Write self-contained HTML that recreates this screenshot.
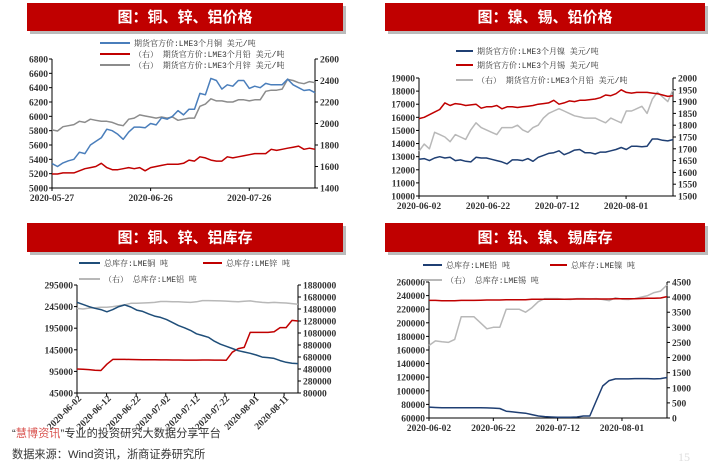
<!DOCTYPE html>
<html><head><meta charset="utf-8">
<style>
body{margin:0;background:#fff;width:720px;height:465px;overflow:hidden}
svg{display:block}
.tk{font-family:"Liberation Serif","Noto Serif CJK SC",serif;font-size:9.5px;font-weight:bold;fill:#333}
.lg{font-family:"Liberation Mono","Noto Serif CJK SC",monospace;font-size:8px;fill:#333}
.tt{font-family:"Liberation Sans","Noto Sans CJK SC",sans-serif;font-size:15px;font-weight:bold;fill:#fff}
</style></head>
<body>
<svg id="s" width="720" height="465" viewBox="0 0 720 465" xmlns="http://www.w3.org/2000/svg"></svg>
<script>
// ---- Chart 1: copper, lead, zinc prices ----
const c1Ticks = ["2020-05-27","2020-06-26","2020-07-26"];
const c1Copper = [5340,5300,5350,5380,5400,5500,5480,5600,5650,5700,5820,5800,5750,5680,5780,5850,5850,5840,5900,5880,5980,5960,6000,6080,6020,6100,6100,6320,6300,6530,6500,6380,6440,6420,6500,6500,6390,6420,6400,6460,6440,6440,6440,6520,6440,6400,6360,6370,6330];
const c1Lead = [1530,1530,1540,1540,1540,1560,1580,1590,1600,1630,1590,1570,1570,1580,1590,1580,1590,1560,1590,1600,1610,1620,1620,1620,1630,1660,1650,1690,1680,1660,1650,1650,1690,1680,1690,1700,1710,1720,1720,1720,1760,1750,1760,1770,1780,1790,1760,1770,1760];
const c1Zinc = [1940,1930,1970,1980,1990,2020,2010,2040,2030,2020,2020,2010,1990,1980,2040,2050,2080,2070,2060,2050,2060,2050,2060,2030,2040,2050,2050,2160,2180,2230,2210,2210,2200,2200,2220,2220,2210,2220,2220,2300,2310,2310,2320,2410,2400,2380,2370,2390,2380];
// ---- Chart 2: nickel, tin, lead prices ----
const c2Ticks = ["2020-06-02","2020-06-22","2020-07-12","2020-08-01"];
const c2Nickel = [12800,12850,12700,12900,13000,12900,12950,12700,12750,12650,12600,12950,12900,12900,12800,12700,12600,12450,12750,12750,12700,12850,12650,12950,13100,13250,13300,13450,13150,13300,13500,13550,13300,13300,13200,13350,13350,13450,13550,13700,13550,13800,13800,13750,13800,14350,14350,14250,14200,14300];
const c2Tin = [15900,16000,16200,16400,16600,17100,16900,17050,17000,16900,16950,17000,16700,16800,16800,16900,16650,16800,16800,16750,16800,16850,16900,17000,17050,17100,17300,17000,17100,17250,17200,17300,17300,17350,17400,17500,17700,17650,17800,18100,17900,17850,17900,17900,17900,17850,17800,17700,17600,17650];
const c2Lead = [1690,1720,1700,1770,1760,1750,1730,1760,1750,1740,1780,1810,1790,1780,1770,1760,1790,1790,1790,1800,1780,1770,1790,1800,1830,1850,1860,1870,1860,1850,1840,1835,1830,1830,1830,1820,1810,1830,1820,1810,1860,1860,1870,1880,1850,1910,1940,1920,1900,1950];
// ---- Chart 3: copper, zinc, aluminium stocks ----
const c3Ticks = ["2020-06-02","2020-06-12","2020-06-22","2020-07-02","2020-07-12","2020-07-22","2020-08-01","2020-08-11"];
const c3Copper = [255000,250000,245000,241000,238000,233000,238000,245000,249000,244000,237000,234000,228000,223000,220000,215000,208000,201000,196000,190000,182000,178000,174000,165000,158000,153000,148000,143000,140000,137000,133000,128000,127000,125000,120000,116000,114000,113000];
const c3Zinc = [480000,475000,470000,460000,455000,560000,640000,640000,640000,638000,636000,635000,634000,633000,632000,631000,630000,630000,629000,628000,628000,630000,630000,629000,628000,626000,760000,820000,840000,1090000,1090000,1090000,1090000,1100000,1170000,1170000,1290000,1280000];
const c3Alu = [1490000,1480000,1495000,1500000,1510000,1510000,1520000,1535000,1550000,1575000,1575000,1580000,1585000,1590000,1605000,1605000,1600000,1600000,1595000,1590000,1600000,1620000,1620000,1618000,1615000,1612000,1605000,1600000,1610000,1615000,1600000,1590000,1585000,1590000,1585000,1580000,1570000,1560000];
// ---- Chart 4: lead, nickel, tin stocks ----
const c4Ticks = ["2020-06-02","2020-06-22","2020-07-12","2020-08-01"];
const c4Lead = [76000,75500,75000,75000,75000,75000,75000,75000,75000,74800,74500,74000,70000,69000,68000,67000,65000,63000,62000,61500,61000,61000,61000,61500,63000,63000,85000,107000,115000,117500,117500,117500,118000,118000,118000,117500,118000,119500];
const c4Nickel = [233000,233000,232500,232500,232500,233000,233000,233000,233200,233500,233500,233500,233800,234000,234000,234000,234500,234500,234500,234500,234500,234500,234800,235000,235000,235000,235000,235000,235000,235500,235500,235500,235500,235800,236000,236000,236500,238500];
const c4Tin = [2400,2550,2520,2500,2600,3350,3350,3350,3150,2950,3000,3000,3600,3600,3600,3500,3650,3850,3950,3950,3950,3930,3920,3950,3950,3940,3950,3920,3880,3980,3930,3920,3950,4000,4050,4150,4200,4400];

const NS="http://www.w3.org/2000/svg";
const S=document.getElementById('s');
function mk(tag,attrs,parent,text){const e=document.createElementNS(NS,tag);for(const k in attrs)e.setAttribute(k,attrs[k]);if(text!==undefined)e.textContent=text;(parent||S).appendChild(e);return e;}

function title(x,y,w,h,t,name){
  const g=mk('g',{});
  
  
  mk('rect',{x:x+3,y:y+3,width:w,height:h,fill:'#bbb'},g);
  mk('rect',{x:x,y:y,width:w,height:h,fill:'#c00000'},g);
  mk('text',{x:x+w/2,y:y+h/2+5,'text-anchor':'middle',class:'tt'},g,t);
}

function chart(cfg){
  const g=mk('g',{});
  
  
  const {L,R,T,B}=cfg;
  const yL=v=>B-(v-cfg.lmin)/(cfg.lmax-cfg.lmin)*(B-T);
  const yR=v=>B-(v-cfg.rmin)/(cfg.rmax-cfg.rmin)*(B-T);
  const xs=d=>L+d/cfg.D*(R-L);
  mk('line',{x1:L,y1:T,x2:L,y2:B,stroke:'#000','stroke-width':1},g);
  mk('line',{x1:R,y1:T,x2:R,y2:B,stroke:'#000','stroke-width':1},g);
  mk('line',{x1:L,y1:B,x2:R,y2:B,stroke:'#000','stroke-width':1},g);
  for(let v=cfg.lmin;v<=cfg.lmax+1e-6;v+=cfg.lstep){
    const y=yL(v);
    mk('line',{x1:L-3,y1:y,x2:L,y2:y,stroke:'#000'},g);
    const t=mk('text',{x:L-4,y:y+3.5,'text-anchor':'end',class:'tk'},g,String(v));
    
    
  }
  for(let v=cfg.rmin;v<=cfg.rmax+1e-6;v+=cfg.rstep){
    const y=yR(v);
    mk('line',{x1:R,y1:y,x2:R+3,y2:y,stroke:'#000'},g);
    const t=mk('text',{x:R+5,y:y+3.5,'text-anchor':'start',class:'tk'},g,String(v));
    
    
  }
  cfg.ticks.forEach((lab,i)=>{
    const x=xs(i*cfg.tstep);
    mk('line',{x1:x,y1:B,x2:x,y2:B+3,stroke:'#000'},g);
    let t;
    if(cfg.rot){
      t=mk('text',{x:x+5,y:B+6,'text-anchor':'end',class:'tk',transform:`rotate(-45 ${x+5} ${B+6})`},g,lab);
    } else {
      t=mk('text',{x:x,y:B+13,'text-anchor':'middle',class:'tk'},g,lab);
    }
    
    
  });
  cfg.series.forEach(s=>{
    const sc=s.right?yR:yL;
    const n=s.data.length;
    const pts=s.data.map((v,i)=>xs(i/(n-1)*cfg.D).toFixed(1)+','+sc(v).toFixed(1)).join(' ');
    const p=mk('polyline',{points:pts,fill:'none',stroke:s.color,'stroke-width':1.5,'stroke-linejoin':'round'},g);
    
    
  });
  cfg.legend.forEach(l=>{
    const lg=mk('g',{},g);
    
    
    mk('line',{x1:l.x,y1:l.y,x2:l.x+l.w,y2:l.y,stroke:l.color,'stroke-width':2},lg);
    mk('text',{x:l.x+l.w+4,y:l.y+3,class:'lg'},lg,l.text);
  });
}

title(27,3,316,28,'图：铜、锌、铝价格','title-copper-zinc-lead-price');
title(385,3,320,28,'图：镍、锡、铅价格','title-nickel-tin-lead-price');
title(27,223,316,29,'图：铜、锌、铝库存','title-copper-zinc-alu-stock');
title(385,223,320,29,'图：铅、镍、锡库存','title-lead-nickel-tin-stock');

chart({name:'chart-copper-price',L:52,R:315,T:59,B:188,lmin:5000,lmax:6800,lstep:200,rmin:1400,rmax:2600,rstep:200,D:80,tstep:30,ticks:c1Ticks,
  series:[{name:'line-zinc-price',data:c1Zinc,color:'#8c8c8c',right:true},{name:'line-lead-price',data:c1Lead,color:'#c00000',right:true},{name:'line-copper-price',data:c1Copper,color:'#4a7ebb'}],
  legend:[{x:100,y:43,w:30,color:'#4a7ebb',text:'期货官方价:LME3个月铜 美元/吨'},{x:100,y:54,w:30,color:'#c00000',text:'（右） 期货官方价:LME3个月铅 美元/吨'},{x:100,y:65,w:30,color:'#8c8c8c',text:'（右） 期货官方价:LME3个月锌 美元/吨'}]});

chart({name:'chart-nickel-price',L:419,R:673,T:78,B:196,lmin:10000,lmax:19000,lstep:1000,rmin:1500,rmax:2000,rstep:50,D:73.6,tstep:20,ticks:c2Ticks,
  series:[{name:'line-lead-price',data:c2Lead,color:'#b8b8b8',right:true},{name:'line-tin-price',data:c2Tin,color:'#c00000'},{name:'line-nickel-price',data:c2Nickel,color:'#1f3f73'}],
  legend:[{x:456,y:51,w:17,color:'#1f3f73',text:'期货官方价:LME3个月镍 美元/吨'},{x:456,y:65,w:17,color:'#c00000',text:'期货官方价:LME3个月锡 美元/吨'},{x:456,y:80,w:17,color:'#b8b8b8',text:'（右） 期货官方价:LME3个月铅 美元/吨'}]});

chart({name:'chart-copper-stock',L:77,R:298,T:285,B:393,lmin:45000,lmax:295000,lstep:50000,rmin:80000,rmax:1880000,rstep:200000,D:74.7,tstep:10,ticks:c3Ticks,rot:true,
  series:[{name:'line-alu-stock',data:c3Alu,color:'#b8b8b8',right:true},{name:'line-zinc-stock',data:c3Zinc,color:'#c00000',right:true},{name:'line-copper-stock',data:c3Copper,color:'#1f4e79'}],
  legend:[{x:79,y:263,w:21,color:'#1f4e79',text:'总库存:LME铜 吨'},{x:203,y:263,w:19,color:'#c00000',text:'总库存:LME锌 吨'},{x:79,y:279,w:21,color:'#b8b8b8',text:'（右） 总库存:LME铝 吨'}]});

chart({name:'chart-lead-stock',L:429,R:667,T:282,B:418,lmin:60000,lmax:260000,lstep:20000,rmin:0,rmax:4500,rstep:500,D:74,tstep:20,ticks:c4Ticks,
  series:[{name:'line-tin-stock',data:c4Tin,color:'#b8b8b8',right:true},{name:'line-nickel-stock',data:c4Nickel,color:'#c00000'},{name:'line-lead-stock',data:c4Lead,color:'#1f3f73'}],
  legend:[{x:423,y:265,w:19,color:'#1f3f73',text:'总库存:LME铅 吨'},{x:550,y:265,w:17,color:'#c00000',text:'总库存:LME镍 吨'},{x:423,y:280,w:19,color:'#b8b8b8',text:'（右） 总库存:LME锡 吨'}]});

const f=mk('g',{});


const t1=mk('text',{x:12,y:437,'font-family':'"Liberation Sans","Noto Sans CJK SC",sans-serif','font-size':'11.2px',fill:'#333'},f);
mk('tspan',{},t1,'“');
mk('tspan',{fill:'#d9534f'},t1,'慧博资讯');
mk('tspan',{},t1,'”专业的投资研究大数据分享平台');
mk('text',{x:12,y:458,'font-family':'"Liberation Sans","Noto Sans CJK SC",sans-serif','font-size':'11.2px',fill:'#333'},f,'数据来源：Wind资讯，浙商证券研究所');
const pn=mk('text',{x:678,y:461,'font-family':'"Liberation Serif",serif','font-size':'12px',fill:'#ddd'},S,'15');


</script>
</body></html>
